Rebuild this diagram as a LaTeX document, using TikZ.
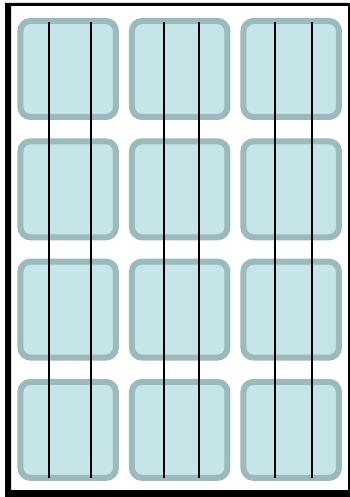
\documentclass[tikz,border=0pt]{standalone}
\usepackage{xcolor}
\usepackage{tikz}
\usetikzlibrary{positioning}

\definecolor{cellfill}{HTML}{C5E5E9}
\definecolor{celledge}{HTML}{9CB9BC}

\tikzset{
  cell/.style={draw=celledge, fill=cellfill, line width=6pt, rounded corners=10pt,
    minimum width=95.5pt, minimum height=96pt, inner sep=0pt},
  wire/.style={draw=black, line width=2pt}
}

\begin{document}
\begin{tikzpicture}[x=1pt, y=-1pt]

        \useasboundingbox (0,0) rectangle (350,497);
        \fill[black, even odd rule] (5,3) rectangle (350,497) (11,6) rectangle (348,490);

        \node[cell] (c11) at (68.2,69) {};
        \node[cell] (c12) [right =10pt of c11] {};
        \node[cell] (c13) [right =10pt of c12] {};

        \node[cell] (c21) [below =18.3pt of c11] {};
        \node[cell] (c22) [below =18.3pt of c12] {};
        \node[cell] (c23) [below =18.3pt of c13] {};

        \node[cell] (c31) [below =18.3pt of c21] {};
        \node[cell] (c32) [below =18.3pt of c22] {};
        \node[cell] (c33) [below =18.3pt of c23] {};

        \node[cell] (c41) [below =18.3pt of c31] {};
        \node[cell] (c42) [below =18.3pt of c32] {};
        \node[cell] (c43) [below =18.3pt of c33] {};

        \path[wire]
        ([xshift=-18.9pt, yshift=-4pt]c11.north) -- ([xshift=-18.9pt, yshift=2.5pt]c41.south)
        ([xshift=23.1pt, yshift=-4pt]c11.north) -- ([xshift=23.1pt, yshift=2.5pt]c41.south)
        ([xshift=-15.7pt, yshift=-4pt]c12.north) -- ([xshift=-15.7pt, yshift=2.5pt]c42.south)
        ([xshift=19pt, yshift=-4pt]c12.north) -- ([xshift=19pt, yshift=2.5pt]c42.south)
        ([xshift=-16.4pt, yshift=-4pt]c13.north) -- ([xshift=-16.4pt, yshift=2.5pt]c43.south)
        ([xshift=20.3pt, yshift=-4pt]c13.north) -- ([xshift=20.3pt, yshift=2.5pt]c43.south);

    \end{tikzpicture}
\end{document}
